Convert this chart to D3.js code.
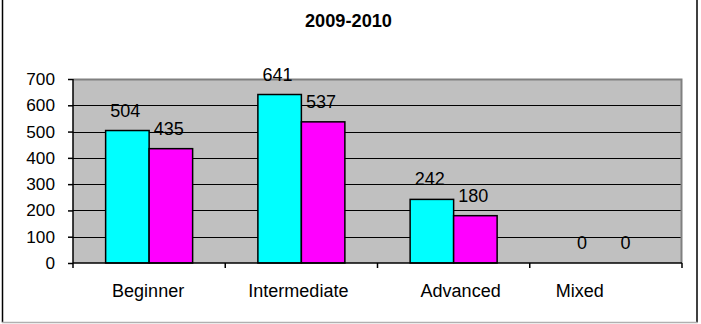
<!DOCTYPE html>
<html>
<head>
<meta charset="utf-8">
<script src="https://cdn.jsdelivr.net/npm/d3@7"></script>
<style>
  html, body { margin: 0; padding: 0; background: #fff; }
  svg { display: block; font-family: Arial, "Liberation Sans", sans-serif; }
</style>
</head>
<body>
<svg id="chart" width="701" height="324"></svg>
<script>
// Enrolment by class level, two series per category
const categories = ["Beginner", "Intermediate", "Advanced", "Mixed"];
const seriesA = [504, 641, 242, 0];
const seriesB = [435, 537, 180, 0];
const yTicks = [0, 100, 200, 300, 400, 500, 600, 700];
const title = "2009-2010";

const colors = ["#00FFFF", "#FF00FF"];
const plot = { left: 73, right: 682, top: 79, bottom: 263 };
// horizontal nudges for the category captions (px)
const captionShift = { Beginner: -1, Intermediate: -3, Advanced: 7, Mixed: -26 };

const svg = d3.select("#chart");

// Chart frame: left/right dark edges, lighter bottom edge
svg.append("line").attr("x1", 2.5).attr("x2", 2.5).attr("y1", 0).attr("y2", 322.5)
  .attr("stroke", "#000").attr("stroke-width", 1.5);
svg.append("line").attr("x1", 697).attr("x2", 697).attr("y1", 0).attr("y2", 322.5)
  .attr("stroke", "#000").attr("stroke-width", 1.5);
svg.append("line").attr("x1", 2).attr("x2", 697.5).attr("y1", 322.5).attr("y2", 322.5)
  .attr("stroke", "#b0b0b0").attr("stroke-width", 1.5);

// Title
svg.append("text")
  .attr("x", 348.5).attr("y", 26.5)
  .attr("text-anchor", "middle")
  .attr("font-weight", "bold")
  .attr("font-size", 18.2)
  .attr("fill", "#000")
  .text(title);

// Scales
const x0 = d3.scaleBand().domain(categories).range([plot.left, plot.right]).paddingInner(0).paddingOuter(0);
const y = d3.scaleLinear().domain([0, 700]).range([plot.bottom, plot.top]);
// gap width of 150% of one bar: two bars occupy 2 / 3.5 of each band
const bw = x0.bandwidth() / 3.5;
const gap = bw * 0.75;

// Plot background
svg.append("rect")
  .attr("x", plot.left).attr("y", plot.top)
  .attr("width", plot.right - plot.left).attr("height", plot.bottom - plot.top)
  .attr("fill", "#C0C0C0");

// Gridlines
svg.append("g").selectAll("line").data(yTicks.filter(d => d > 0 && d < 700)).join("line")
  .attr("x1", plot.left).attr("x2", plot.right)
  .attr("y1", d => Math.round(y(d)) + 0.5).attr("y2", d => Math.round(y(d)) + 0.5)
  .attr("stroke", "#000").attr("stroke-width", 1);

// Plot area border (grey)
svg.append("path")
  .attr("d", `M${plot.left},${plot.top + 0.5}H${plot.right - 0.5}V${plot.bottom}`)
  .attr("fill", "none").attr("stroke", "#808080").attr("stroke-width", 2);

// Bars
const rows = categories.map((c, i) => ({ c, vals: [seriesA[i], seriesB[i]] }));
const groups = svg.append("g").selectAll("g").data(rows).join("g");
groups.selectAll("rect")
  .data(d => d.vals.map((v, k) => ({ c: d.c, v, k })).filter(e => e.v > 0))
  .join("rect")
  .attr("x", e => x0(e.c) + gap + e.k * bw)
  .attr("y", e => y(e.v))
  .attr("width", bw)
  .attr("height", e => y(0) - y(e.v))
  .attr("fill", e => colors[e.k])
  .attr("stroke", "#000")
  .attr("stroke-width", 1.5);

// Value labels
groups.selectAll("text")
  .data(d => d.vals.map((v, k) => ({ c: d.c, v, k })))
  .join("text")
  .attr("x", e => x0(e.c) + gap + e.k * bw + bw / 2 - 2)
  .attr("y", e => y(e.v) - 14)
  .attr("text-anchor", "middle")
  .attr("font-size", 18)
  .attr("fill", "#000")
  .text(e => e.v);

// Y axis
const yAxis = d3.axisLeft(y).tickValues(yTicks).tickSize(5).tickPadding(13).tickFormat(d3.format("d"));
const gy = svg.append("g").attr("transform", `translate(${plot.left},0)`).call(yAxis);
gy.select(".domain").attr("stroke", "#000").attr("stroke-width", 1.5).attr("d", `M0,${plot.top}V${plot.bottom}`);
gy.selectAll(".tick line").attr("stroke", "#000").attr("stroke-width", 1.5);
gy.selectAll(".tick text").attr("font-size", 17.2).attr("font-family", "Arial, 'Liberation Sans', sans-serif").attr("fill", "#000");

// X axis: ticks sit between categories
const xAxisLine = svg.append("g");
xAxisLine.append("line")
  .attr("x1", plot.left).attr("x2", plot.right)
  .attr("y1", plot.bottom).attr("y2", plot.bottom)
  .attr("stroke", "#000").attr("stroke-width", 1.5);
const boundaries = categories.map(c => x0(c)).concat([plot.right]);
xAxisLine.selectAll(".xt").data(boundaries).join("line")
  .attr("x1", d => d).attr("x2", d => d)
  .attr("y1", plot.bottom).attr("y2", plot.bottom + 5)
  .attr("stroke", "#000").attr("stroke-width", 1.5);
xAxisLine.selectAll("text").data(categories).join("text")
  .attr("x", c => x0(c) + x0.bandwidth() / 2 + captionShift[c])
  .attr("y", 297)
  .attr("text-anchor", "middle")
  .attr("font-size", 18)
  .attr("fill", "#000")
  .text(c => c);
</script>
</body>
</html>
